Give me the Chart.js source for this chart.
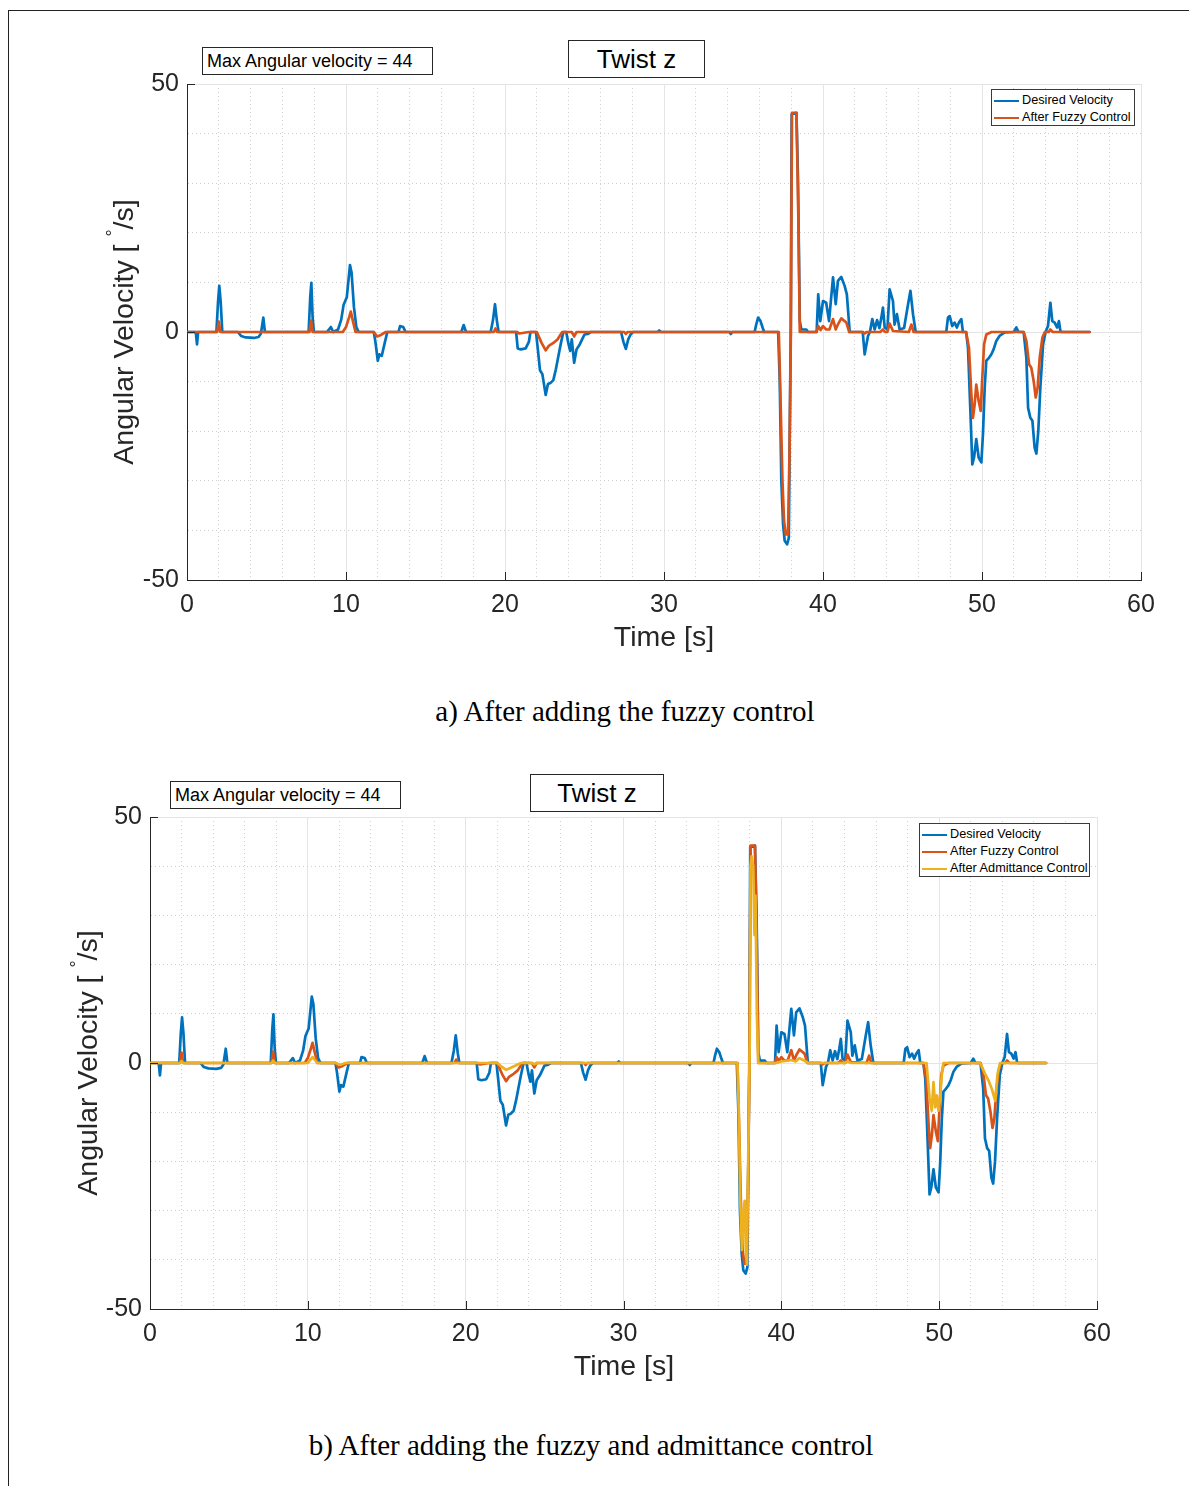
<!DOCTYPE html>
<html>
<head>
<meta charset="utf-8">
<script src="https://cdn.jsdelivr.net/npm/chart.js@4/dist/chart.umd.min.js"></script>
<style>
  body { margin:0; background:#fff; width:1189px; height:1486px; position:relative; overflow:hidden; font-family:"Liberation Sans", Arial, sans-serif; }
  .frame { position:absolute; left:8px; top:10px; width:1300px; height:1600px; border-top:1px solid #222; border-left:1px solid #222; }
  canvas { position:absolute; left:0; }
  .note { position:absolute; border:1px solid #262626; background:#fff; color:#000; white-space:nowrap; box-sizing:border-box; }
  .caption { position:absolute; font-family:"Liberation Serif","Times New Roman",serif; font-size:29px; color:#000; white-space:nowrap; transform:translateX(-50%); line-height:32px; }
  .legend { position:absolute; border:1px solid #3a3a3a; background:#fff; box-sizing:border-box; padding:2px 0 0 2px; font-size:12.7px; color:#000; }
  .row { height:17px; line-height:17px; display:flex; align-items:center; white-space:nowrap; }
  .ln { display:inline-block; width:25px; height:2px; margin-right:3px; }
</style>
</head>
<body>
<div class="frame"></div>
<canvas id="c1" width="1189" height="670" style="top:0px;width:1189px;height:670px"></canvas>
<canvas id="c2" width="1189" height="680" style="top:730px;width:1189px;height:680px"></canvas>

<div class="note" style="left:202px;top:47px;width:231px;height:28px;font-size:18px;line-height:26px;padding-left:4px;">Max Angular velocity = 44</div>
<div class="note" style="left:568px;top:40px;width:137px;height:38px;font-size:26px;line-height:36px;text-align:center;">Twist z</div>
<div class="legend" style="left:991px;top:89px;width:144px;height:37px;">
  <div class="row"><span class="ln" style="background:#0072BD"></span>Desired Velocity</div>
  <div class="row"><span class="ln" style="background:#D95319"></span>After Fuzzy Control</div>
</div>
<div class="caption" style="left:625px;top:695px;">a) After adding the fuzzy control</div>

<div class="note" style="left:170px;top:781px;width:231px;height:28px;font-size:18px;line-height:26px;padding-left:4px;">Max Angular velocity = 44</div>
<div class="note" style="left:530px;top:774px;width:134px;height:38px;font-size:26px;line-height:36px;text-align:center;">Twist z</div>
<div class="legend" style="left:919px;top:823px;width:171px;height:54px;">
  <div class="row"><span class="ln" style="background:#0072BD"></span>Desired Velocity</div>
  <div class="row"><span class="ln" style="background:#D95319"></span>After Fuzzy Control</div>
  <div class="row"><span class="ln" style="background:#EDB120"></span>After Admittance Control</div>
</div>
<div class="caption" style="left:591px;top:1429px;">b) After adding the fuzzy and admittance control</div>

<script>
// ---- Data (time in s, angular velocity in deg/s) ----
const desiredTime = [0,0.55,0.63,0.7,1.85,1.95,2.03,2.12,2.22,3.2,3.4,3.7,4.2,4.5,4.65,4.8,4.9,7.65,7.75,7.82,7.9,7.98,8.8,9.05,9.2,9.5,9.7,9.85,10.05,10.25,10.35,10.5,10.65,10.8,11.75,11.85,12.0,12.1,12.25,12.45,12.6,13.3,13.4,13.6,13.75,17.25,17.4,17.55,19.1,19.25,19.37,19.5,19.6,20.7,20.8,21.0,21.3,21.5,21.6,21.95,22.05,22.2,22.35,22.56,22.7,22.85,23.04,23.2,23.35,23.5,23.67,23.85,24.0,24.1,24.2,24.35,24.5,24.7,24.85,25.0,25.2,25.4,27.3,27.45,27.6,27.75,27.9,28.05,29.6,29.7,29.8,34.1,34.2,34.3,35.7,35.8,35.92,36.07,36.2,36.3,37.18,37.28,37.38,37.49,37.59,37.74,37.85,37.9,37.97,38.03,38.33,38.43,38.54,38.64,38.95,39.05,39.6,39.7,39.83,40.0,40.2,40.38,40.63,40.8,40.94,41.15,41.36,41.5,41.68,42.5,42.62,42.83,42.95,43.1,43.25,43.4,43.55,43.67,43.77,43.88,44.05,44.19,44.4,44.5,44.65,44.82,45.1,45.35,45.5,45.66,45.83,47.75,47.86,47.97,48.13,48.28,48.42,48.55,48.7,48.8,49.0,49.12,49.27,49.39,49.5,49.64,49.79,49.96,50.06,50.17,50.27,50.44,50.59,50.73,50.9,51.1,51.43,52.0,52.16,52.3,52.62,52.79,52.9,53.04,53.17,53.31,53.42,53.54,53.67,53.84,54.0,54.15,54.3,54.42,54.57,54.72,54.84,54.93,55.0,56.77];
const desiredVel  = [0,0,-2.5,0,0,6,9.3,6,0,0,-0.8,-1.1,-1.2,-1.0,-0.3,2.9,0,0,7,9.9,3,0,0,1,0,0.5,2.5,5.5,7,13.5,12,5,1,0,0,-2,-5.8,-4.5,-4.8,-2,0,0,1.2,1.0,0,0,1.4,0,0,2.5,5.6,2,0,0,-3.3,-3.5,-3.3,-2,0,0,-3,-7.7,-8.5,-12.7,-10.5,-10.3,-9.7,-7.5,-5,-2.5,0,0,-2.5,-3.8,-1.5,-6.2,-3.5,-2.5,-1.5,-0.5,-0.4,0,0,-2,-3.4,-1.5,-0.5,0,0,0.3,0,0,-0.4,0,0,1.5,2.9,2.2,0.9,0,0,-9.9,-30,-38.8,-42.1,-42.8,-41.5,-23.3,0,43.9,44.2,30.4,2.2,0.5,0.5,0,0,7.6,2.2,6.25,5.9,2.2,11,5.6,10.3,11.1,9.3,7.6,0,0,-4.5,-0.8,0,2.6,0.5,2.4,0.8,2.9,4.9,0.9,0.5,8.6,6.25,1.5,3.6,0.5,0.8,5.6,8.3,3.6,0,0,2.9,3.2,1.2,1.9,0.9,1.9,2.6,0,0,-3.2,-15.9,-26.7,-25.3,-21.6,-25.3,-26.3,-20.6,-11.2,-5.8,-5.2,-4.5,-3.5,-1.8,-0.8,-0.1,0,0.9,0,0,-5.2,-15.3,-17.3,-17.9,-23.3,-24.5,-20,-11.2,-2.5,0,1.2,5.9,2.2,1.9,0.9,2.2,0.2,0,0];

const fuzzyTime = [0,1.9,2.0,2.1,7.7,7.8,7.9,9.8,10.0,10.2,10.3,10.45,10.6,11.75,11.95,12.2,12.5,19.3,19.4,19.5,20.75,20.9,21.5,22.0,22.3,22.56,22.75,23.04,23.3,23.6,24.2,24.35,24.5,27.5,27.6,27.7,37.22,37.3,37.45,37.55,37.66,37.8,37.9,37.98,38.05,38.33,38.45,38.54,39.6,39.7,39.85,40.0,40.2,40.4,40.63,40.8,40.95,41.15,41.47,41.65,42.5,42.6,42.75,43.6,43.77,43.9,44.05,44.19,44.4,45.4,45.56,45.7,49.0,49.18,49.33,49.43,49.54,49.64,49.79,49.92,50.02,50.13,50.27,50.6,52.62,52.79,52.96,53.1,53.25,53.38,53.5,53.63,53.8,53.95,54.2,54.3,54.45,56.77];
const fuzzyVel  = [0,0,2.1,0,0,2.3,0,0,1,3,4.1,2,0,0,-0.9,-0.6,0,0,0.7,0,0,-0.3,0,0,-2.2,-3.7,-2.8,-2.2,-1.5,0,0,-0.9,0,0,-0.4,0,0,-9.9,-30,-38.1,-40.8,-40.8,-23.3,0,44.2,44.2,23,0,0,1.2,0.4,1.2,0.5,0.5,2.6,0.5,1.6,2.75,1.9,0,0,-0.3,0,0,0.5,0,0,1.7,0.2,0,1.5,0,0,-3.2,-12.6,-17.3,-14.6,-10.6,-13.9,-15.9,-9.2,-2.5,-0.5,0,0,-1.8,-6.5,-7.2,-9.9,-13.2,-11.2,-5.2,-1.1,0,0,0.5,0,0];

const admitTime = [0,1.9,2.0,2.1,7.7,7.8,7.9,10.0,10.3,10.6,11.8,12.0,12.4,22.0,22.3,22.56,22.9,23.5,24.2,24.35,24.5,37.22,37.3,37.4,37.5,37.6,37.68,37.75,37.82,37.88,37.94,38.0,38.05,38.12,38.22,38.3,38.36,38.45,38.54,39.7,40.0,40.63,40.9,41.15,41.5,41.7,44.0,44.2,44.4,49.2,49.39,49.53,49.64,49.75,49.85,49.96,50.06,50.17,50.27,52.6,52.91,53.13,53.34,53.55,53.7,53.86,56.77];
const admitVel  = [0,0,0.4,0,0,0.5,0,0,1.2,0,0,-0.4,0,0,-0.8,-1.4,-0.9,0,0,-0.3,0,0,-9,-28,-38,-30,-28,-38,-41,-25,-10,5,40,42,40,26,34,10,0,0,0.3,0.6,0.3,1,0.4,0,0,0.3,0,0,-7,-9.7,-3.9,-9,-6.6,-9.7,-7,-2.2,0,0,-2.2,-3.6,-5.3,-7.7,-2.2,0,0];

const xMajorTicks = [0,10,20,30,40,50,60];
const yMajorTicks = [-50,0,50];
const xTitle = 'Time [s]';
const yTitleParts = ['Angular Velocity [ ', '\u00B0', '/s]'];

const BLUE = '#0072BD', ORANGE = '#D95319', YELLOW = '#EDB120';
const TXT = '#262626';
const FAM = '"Liberation Sans", Arial, sans-serif';

function pts(ts, vs) { return ts.map((t, i) => ({ x: t, y: vs[i] })); }

const titlePlugin = {
  id: 'axisTitles',
  afterDraw(chart, args, opts) {
    const ctx = chart.ctx;
    ctx.save();
    ctx.fillStyle = TXT;
    ctx.font = '28.5px ' + FAM;
    ctx.textAlign = 'center';
    ctx.textBaseline = 'middle';
    ctx.fillText(xTitle, opts.xcx, opts.xcy);
    ctx.translate(opts.ycx, opts.ycy);
    ctx.rotate(-Math.PI / 2);
    ctx.textAlign = 'left';
    ctx.textBaseline = 'middle';
    const f1 = '28.5px ' + FAM;
    const f2 = '18px ' + FAM;
    ctx.font = f1; const w1 = ctx.measureText(yTitleParts[0]).width; const w3 = ctx.measureText(yTitleParts[2]).width;
    ctx.font = f2; const w2 = ctx.measureText(yTitleParts[1]).width;
    let x = -(w1 + w2 + w3) / 2;
    ctx.font = f1; ctx.fillText(yTitleParts[0], x, 0); x += w1;
    ctx.font = f2; ctx.fillText(yTitleParts[1], x, -11); x += w2;
    ctx.font = f1; ctx.fillText(yTitleParts[2], x, 0);
    ctx.restore();
  }
};

const tickPlugin = {
  id: 'inwardTicks',
  afterDraw(chart) {
    const ctx = chart.ctx, xs = chart.scales.x, ys = chart.scales.y, a = chart.chartArea;
    ctx.save();
    ctx.strokeStyle = TXT; ctx.lineWidth = 1;
    ctx.beginPath();
    xMajorTicks.forEach(v => { const px = Math.round(xs.getPixelForValue(v)) + 0.5; ctx.moveTo(px, a.bottom); ctx.lineTo(px, a.bottom - 8); });
    yMajorTicks.forEach(v => { const py = Math.round(ys.getPixelForValue(v)) + 0.5; ctx.moveTo(a.left, py); ctx.lineTo(a.left + 8, py); });
    ctx.stroke();
    ctx.restore();
  }
};

function makeChart(id, datasets, layout) {
  return new Chart(document.getElementById(id), {
    type: 'line',
    data: { datasets },
    options: {
      responsive: false,
      animation: false,
      devicePixelRatio: 1,
      events: [],
      layout: { padding: { left: 0, top: layout.top, right: layout.right, bottom: 0 } },
      plugins: { legend: { display: false }, tooltip: { enabled: false }, axisTitles: layout.titles },
      elements: { point: { radius: 0 }, line: { tension: 0, borderWidth: 2.7, borderJoinStyle: 'round', borderCapStyle: 'round' } },
      scales: {
        x: {
          type: 'linear', min: 0, max: 60,
          afterFit: s => { s.height = layout.xh; },
          ticks: { stepSize: 2, autoSkip: false, maxRotation: 0, padding: 10, color: TXT,
                   font: { size: 25, family: FAM },
                   callback: v => xMajorTicks.includes(v) ? String(v) : '' },
          grid: { drawTicks: false, lineWidth: 1,
                  color: c => (c.tick && xMajorTicks.includes(c.tick.value)) ? '#e4e4e4' : '#cfcfcf' },
          border: { display: true, color: TXT, width: 1,
                    dash: c => (c.tick && !xMajorTicks.includes(c.tick.value)) ? [1, 3] : [] }
        },
        y: {
          type: 'linear', min: -50, max: 50,
          afterFit: s => { s.width = layout.yw; },
          ticks: { stepSize: 10, autoSkip: false, padding: 8, color: TXT,
                   font: { size: 25, family: FAM },
                   callback: v => yMajorTicks.includes(v) ? String(v) : '' },
          grid: { drawTicks: false, lineWidth: 1,
                  color: c => (c.tick && yMajorTicks.includes(c.tick.value)) ? '#e4e4e4' : '#cfcfcf' },
          border: { display: true, color: TXT, width: 1,
                    dash: c => (c.tick && !yMajorTicks.includes(c.tick.value)) ? [1, 3] : [] }
        }
      }
    },
    plugins: [titlePlugin, tickPlugin]
  });
}

makeChart('c1', [
  { label: 'Desired Velocity', data: pts(desiredTime, desiredVel), borderColor: BLUE, order: 2 },
  { label: 'After Fuzzy Control', data: pts(fuzzyTime, fuzzyVel), borderColor: ORANGE, order: 1 }
], { top: 84, right: 48, xh: 90, yw: 187, titles: { xcx: 664, xcy: 638, ycx: 125, ycy: 332 } });

makeChart('c2', [
  { label: 'Desired Velocity', data: pts(desiredTime, desiredVel), borderColor: BLUE, order: 3 },
  { label: 'After Fuzzy Control', data: pts(fuzzyTime, fuzzyVel), borderColor: ORANGE, order: 2 },
  { label: 'After Admittance Control', data: pts(admitTime, admitVel), borderColor: YELLOW, order: 1 }
], { top: 87, right: 92, xh: 101, yw: 150, titles: { xcx: 624, xcy: 637, ycx: 89, ycy: 333 } });
</script>
</body>
</html>
